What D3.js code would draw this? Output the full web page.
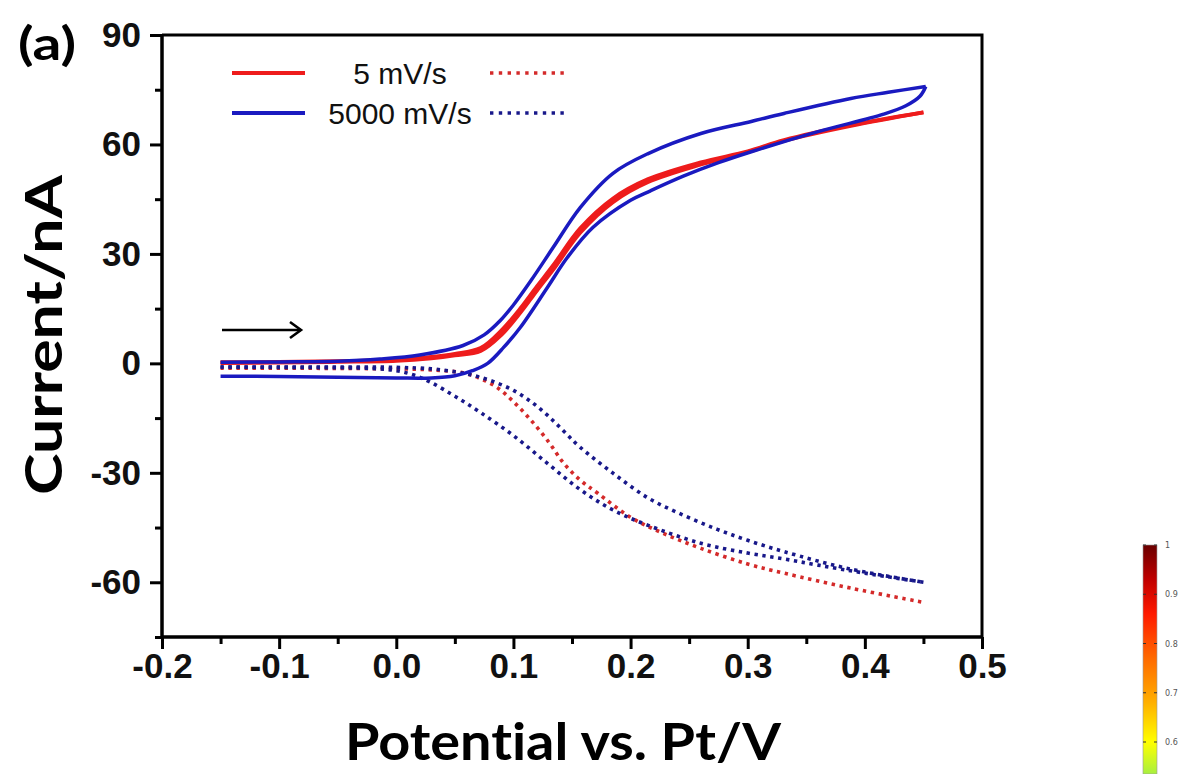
<!DOCTYPE html>
<html>
<head>
<meta charset="utf-8">
<script src="https://cdn.jsdelivr.net/npm/d3@7"></script>
<style>
  body { margin: 0; background: #fff; }
  svg { display: block; }
  text { font-variant-ligatures: none; }
</style>
</head>
<body>
<script>

// values: [potential (V), current (nA)]
var potentialTicks = [-0.2, -0.1, 0.0, 0.1, 0.2, 0.3, 0.4, 0.5];
var currentTicks = [-60, -30, 0, 30, 60, 90];

var legendNames = ["5 mV/s", "5000 mV/s"];

// 5 mV/s, solid (two branches almost on top of each other)
var redSolidA = [[-0.15,0.1],[-0.1,0.2],[-0.05,0.4],[0.0,0.7],[0.03,1.4],[0.05,2.2],[0.072,3.4],[0.09,7.9],[0.106,13.9],[0.12,19.9],[0.134,25.7],[0.157,35.8],[0.185,44.2],[0.215,49.7],[0.26,54.5],[0.30,57.9],[0.331,61.0],[0.388,65.1],[0.45,68.8]];
var redSolidB = [[-0.15,0.3],[-0.1,0.4],[-0.05,0.6],[0.0,1.1],[0.03,1.8],[0.05,2.6],[0.072,4.2],[0.09,9.1],[0.106,15.1],[0.12,21.1],[0.134,26.9],[0.157,37.0],[0.185,45.2],[0.215,50.5],[0.26,55.1],[0.30,58.1],[0.331,61.2],[0.388,65.3],[0.45,68.8]];

// 5000 mV/s, solid loop
var blueSolidUpper = [[-0.15,0.3],[-0.1,0.4],[-0.05,0.6],[-0.014,1.2],[0.02,2.3],[0.057,4.9],[0.075,7.8],[0.089,11.8],[0.10,16.0],[0.115,22.7],[0.134,31.8],[0.157,42.7],[0.185,52.1],[0.215,57.5],[0.26,63.0],[0.303,66.3],[0.331,68.5],[0.388,72.6],[0.42,74.3],[0.452,75.9]];
var blueSolidLower = [[-0.15,-3.5],[-0.1,-3.6],[-0.05,-3.8],[0.0,-4.0],[0.03,-4.0],[0.05,-3.4],[0.065,-2.0],[0.078,0.0],[0.092,4.5],[0.106,9.9],[0.129,20.8],[0.146,29.0],[0.168,37.3],[0.20,44.7],[0.217,47.3],[0.245,51.3],[0.275,55.0],[0.303,58.0],[0.36,63.5],[0.416,68.3],[0.435,70.6],[0.447,73.2],[0.452,75.9]];

// 5 mV/s, dotted
var redDotted = [[-0.15,-1.3],[-0.1,-1.3],[-0.05,-1.4],[0.0,-1.5],[0.03,-1.8],[0.057,-2.6],[0.072,-4.2],[0.086,-6.6],[0.10,-10.5],[0.115,-15.6],[0.13,-21.5],[0.143,-27.4],[0.157,-32.0],[0.172,-35.6],[0.20,-42.2],[0.228,-46.6],[0.26,-50.7],[0.30,-55.0],[0.331,-57.5],[0.388,-61.6],[0.45,-65.5]];

// 5000 mV/s, dotted loop
var blueDottedLeft = [[-0.15,-1.0],[-0.1,-1.1],[-0.05,-1.2],[-0.02,-1.4],[0.0,-2.0],[0.015,-3.2],[0.03,-5.3],[0.05,-9.0],[0.072,-13.5],[0.10,-19.8],[0.129,-27.4],[0.157,-34.6],[0.185,-40.2],[0.215,-44.4],[0.26,-49.3],[0.30,-52.0],[0.331,-53.6],[0.36,-55.3],[0.40,-57.5],[0.45,-60.0]];
var blueDottedRight = [[-0.15,-1.0],[-0.1,-1.0],[-0.05,-1.0],[0.0,-1.1],[0.03,-1.5],[0.05,-2.3],[0.066,-3.3],[0.083,-5.0],[0.10,-7.4],[0.115,-10.5],[0.129,-14.2],[0.143,-18.6],[0.157,-23.0],[0.185,-30.1],[0.215,-36.9],[0.245,-41.6],[0.274,-45.5],[0.30,-48.5],[0.331,-51.6],[0.388,-56.4],[0.45,-60.0]];

// the colour bar cut off at bottom right
var barTicks = [1, 0.9, 0.8, 0.7, 0.6];
var barColors = ["#6a0000", "#c00000", "#ff1a00", "#ff6a00", "#ffb000", "#ffff00", "#a8f040"];
var barStops = [1, 0.93, 0.86, 0.77, 0.68, 0.6, 0.535];

var width = 1188, height = 774;

var svg = d3.select("body").append("svg")
    .attr("width", width)
    .attr("height", height);

var x = d3.scaleLinear().domain([-0.2, 0.5]).range([162, 982]);
var y = d3.scaleLinear().domain([-75, 90]).range([637, 35]);

var line = d3.line()
    .x(d => x(d[0]))
    .y(d => y(d[1]))
    .curve(d3.curveCatmullRom.alpha(0.5));

var red = "#ee1c1c", blue = "#1a1ac0", redDot = "#d42a2a", blueDot = "#18188a";

// curves
function dotted(data, color) {
  svg.append("path")
    .attr("d", line(data))
    .attr("fill", "none")
    .attr("stroke", color)
    .attr("stroke-width", 3.6)
    .attr("stroke-dasharray", "3.4 4.6");
}
function solid(data, color, w) {
  svg.append("path")
    .attr("d", line(data))
    .attr("fill", "none")
    .attr("stroke", color)
    .attr("stroke-width", w)
    .attr("stroke-linejoin", "round");
}
dotted(redDotted, redDot);
dotted(blueDottedLeft, blueDot);
dotted(blueDottedRight, blueDot);
solid(redSolidA, red, 3.8);
solid(redSolidB, red, 3.8);
solid(blueSolidUpper, blue, 3.5);
solid(blueSolidLower, blue, 3.5);

// axes
var tickFont = "'Liberation Sans', Arial, sans-serif";
var hyphen = d => String(d).replace("\u2212", "-");

var xAxis = svg.append("g")
    .attr("transform", "translate(0," + y(-75) + ")")
    .call(d3.axisBottom(x).tickValues(potentialTicks)
      .tickFormat(d => hyphen(d3.format(".1f")(d))).tickSize(12).tickPadding(4));
xAxis.append("g").call(d3.axisBottom(x).tickValues(d3.range(-0.15, 0.5, 0.1)).tickSize(7).tickFormat(""));

var yAxis = svg.append("g")
    .attr("transform", "translate(" + x(-0.2) + ",0)")
    .call(d3.axisLeft(y).tickValues(currentTicks)
      .tickFormat(d => hyphen(d3.format("d")(d))).tickSize(12).tickPadding(9));
yAxis.append("g").call(d3.axisLeft(y).tickValues(d3.range(-75, 90, 30)).tickSize(7).tickFormat(""));

svg.selectAll(".domain").attr("stroke", "#000").attr("stroke-width", 3);
xAxis.selectAll(".domain").attr("d", "M" + x(-0.2) + ",0H" + x(0.5));
yAxis.selectAll(".domain").attr("d", "M0," + y(-75) + "V" + y(90));
svg.selectAll(".tick line").attr("stroke", "#000").attr("stroke-width", 3);
svg.selectAll(".tick text")
    .attr("fill", "#111")
    .style("font-family", tickFont)
    .style("font-weight", "bold")
    .style("font-size", "35px");

// frame top & right
svg.append("path")
    .attr("d", "M" + x(-0.2) + "," + y(90) + "H" + x(0.5) + "V" + y(-75))
    .attr("fill", "none")
    .attr("stroke", "#000")
    .attr("stroke-width", 3);

// axis titles
var titleFont = "Lato, 'Open Sans', sans-serif";
svg.append("text")
    .attr("transform", "translate(62,335) rotate(-90)")
    .attr("text-anchor", "middle")
    .attr("textLength", 320)
    .attr("lengthAdjust", "spacingAndGlyphs")
    .style("font-family", titleFont)
    .style("font-weight", "bold")
    .style("font-size", "52px")
    .text("Current/nA");

svg.append("text")
    .attr("x", 563).attr("y", 760)
    .attr("text-anchor", "middle")
    .attr("textLength", 436)
    .attr("lengthAdjust", "spacingAndGlyphs")
    .style("font-family", titleFont)
    .style("font-weight", "bold")
    .style("font-size", "52px")
    .text("Potential vs. Pt/V");

svg.append("text")
    .attr("x", 18).attr("y", 60)
    .attr("textLength", 58)
    .attr("lengthAdjust", "spacingAndGlyphs")
    .style("font-family", titleFont)
    .style("font-weight", "bold")
    .style("font-size", "46px")
    .text("(a)");

// legend
var legend = svg.append("g").attr("transform", "translate(230,73)");
var legendColors = [[red, redDot], [blue, blueDot]];
legendNames.forEach(function(name, i) {
  var g = legend.append("g").attr("transform", "translate(0," + (i * 40) + ")");
  g.append("line").attr("x1", 2).attr("x2", 75)
    .attr("stroke", legendColors[i][0]).attr("stroke-width", 4);
  g.append("text").attr("x", 170).attr("y", 11)
    .attr("text-anchor", "middle")
    .style("font-family", tickFont)
    .style("font-size", "30px")
    .attr("fill", "#111")
    .text(name);
  g.append("line").attr("x1", 260).attr("x2", 339)
    .attr("stroke", legendColors[i][1]).attr("stroke-width", 3.4)
    .attr("stroke-dasharray", "3.4 5.4");
});

// direction arrow
var arrow = svg.append("g").attr("stroke", "#000").attr("stroke-width", 2.6).attr("fill", "none");
arrow.append("line").attr("x1", 222).attr("x2", 301).attr("y1", 330).attr("y2", 330);
arrow.append("path").attr("d", "M290,322L301,330L290,338");

// colour bar
var cb = d3.scaleLinear().domain([0.6, 1]).range([742, 545]);
var defs = svg.append("defs");
var grad = defs.append("linearGradient").attr("id", "cbar")
    .attr("x1", 0).attr("x2", 0).attr("y1", 0).attr("y2", 1);
barStops.forEach(function(v, i) {
  grad.append("stop")
    .attr("offset", (cb(v) - cb(1)) / (cb(0.535) - cb(1)))
    .attr("stop-color", barColors[i]);
});
svg.append("rect")
    .attr("x", 1143).attr("y", cb(1))
    .attr("width", 14).attr("height", cb(0.535) - cb(1))
    .attr("fill", "url(#cbar)")
    .attr("stroke", "#999").attr("stroke-width", 0.6);
barTicks.forEach(function(v) {
  svg.append("line").attr("x1", 1143).attr("x2", 1146).attr("y1", cb(v)).attr("y2", cb(v))
    .attr("stroke", "#333").attr("stroke-width", 1);
  svg.append("line").attr("x1", 1154).attr("x2", 1157).attr("y1", cb(v)).attr("y2", cb(v))
    .attr("stroke", "#333").attr("stroke-width", 1);
  svg.append("text").attr("x", 1165).attr("y", cb(v) + 3)
    .style("font-family", "'DejaVu Sans', sans-serif")
    .style("font-size", "8px")
    .attr("fill", "#555")
    .text(v === 1 ? "1" : d3.format(".1f")(v));
});

</script>
</body>
</html>
